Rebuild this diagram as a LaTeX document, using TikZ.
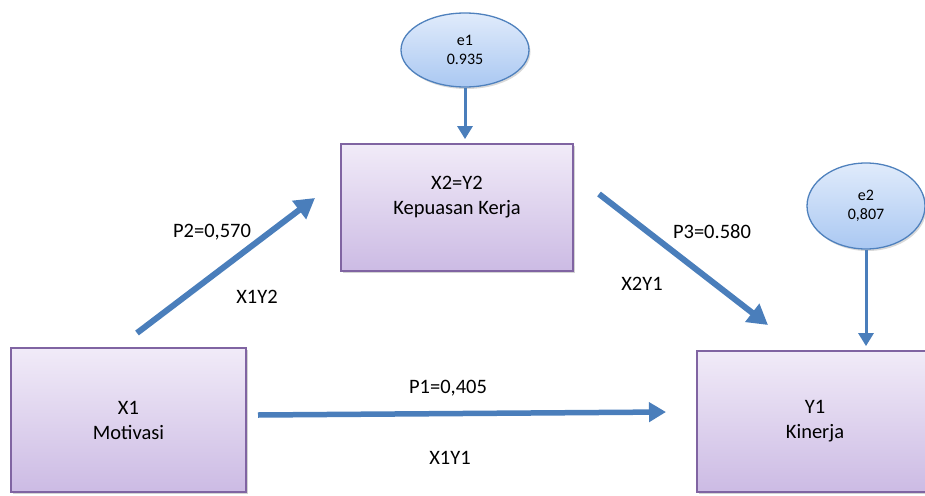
\documentclass[tikz,border=0pt]{standalone}
\usepackage{fontspec}
\setmainfont{Carlito}
\usepackage{tikz}
\usetikzlibrary{shapes,arrows.meta,positioning,shadows}
\definecolor{boxline}{RGB}{128,100,162}
\definecolor{boxtop}{RGB}{241,235,248}
\definecolor{boxbottom}{RGB}{204,187,228}
\definecolor{errline}{RGB}{79,129,189}
\definecolor{errtop}{RGB}{224,235,251}
\definecolor{errbottom}{RGB}{170,200,242}
\definecolor{pathblue}{RGB}{74,126,187}

\tikzset{
    varbox/.style={draw=boxline, line width=1.8pt, top color=boxtop, bottom color=boxbottom,
        inner sep=0pt, align=center, font=\fontsize{20.5}{25}\selectfont,
        drop shadow={shadow xshift=2pt, shadow yshift=-2pt, opacity=0.35}},
    errnode/.style={ellipse, draw=errline, line width=1.3pt, top color=errtop, bottom color=errbottom,
        inner sep=0pt, align=center, font=\fontsize{16}{19.5}\selectfont,
        drop shadow={shadow xshift=1.5pt, shadow yshift=-2pt, opacity=0.3}},
    coef/.style={font=\fontsize{20.5}{25}\selectfont},
    bigpath/.style={pathblue, line width=6pt, -{Triangle[length=20pt,width=22pt]}},
    errpath/.style={pathblue, line width=3pt, -{Triangle[length=13pt,width=15pt]}, shorten >=4pt}
}

\begin{document}
\begin{tikzpicture}[x=1pt,y=-1pt]
\useasboundingbox (0,0) rectangle (925,495);

% variables
\node[varbox, minimum width=235pt, minimum height=144pt] (x1) at (128.5,420) {X1\\Motivasi};
\node[varbox, minimum width=232pt, minimum height=127pt] (x2) at (457,207.5) {X2=Y2\\Kepuasan Kerja\\\mbox{}};
\node[varbox, minimum width=236pt, minimum height=141pt] (y1) at (815,421.5) {Y1\\Kinerja};

% error terms
\node[errnode, minimum width=128pt, minimum height=74pt] (e1) at (465,50) {e1\\0.935};
\node[errnode, minimum width=118pt, minimum height=86pt] (e2) at (866,206) {e2\\0,807};

\draw[errpath] (e1.south) -- (e1.south |- x2.north);
\draw[errpath] (e2.south) -- (e2.south |- y1.north);

% paths
\coordinate (a2s) at (137,333);
\coordinate (a2e) at (315,198);
\coordinate (a3s) at (599,194);
\coordinate (a3e) at (768,325);
\coordinate (a1s) at (258,415);
\coordinate (a1e) at (666,412);
\draw[bigpath] (a2s) -- (a2e);
\draw[bigpath] (a3s) -- (a3e);
\draw[bigpath, line width=5.5pt, -{Triangle[length=17pt,width=19pt]}] (a1s) -- (a1e);

% coefficients
\node[coef] (p2) at (212,232) {P2=0,570};
\node[coef] (x1y2) at (257,297) {X1Y2};
\node[coef] (p3) at (712,232) {P3=0.580};
\node[coef] (x2y1) at (642,284) {X2Y1};
\node[coef] (p1) at (448,388) {P1=0,405};
\node[coef] (x1y1) at (450,458) {X1Y1};
\end{tikzpicture}
\end{document}
